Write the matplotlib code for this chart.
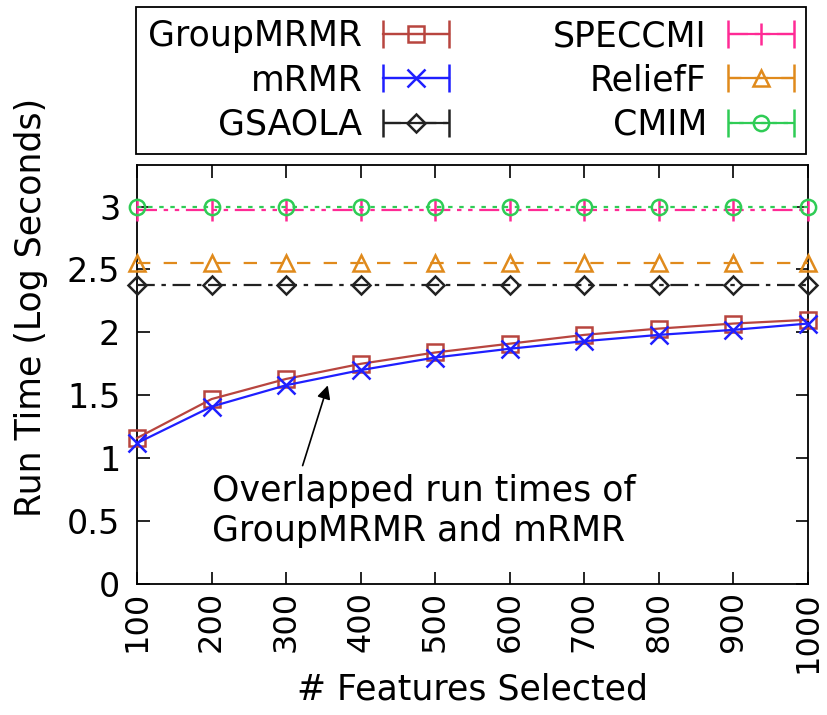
import matplotlib
matplotlib.use('Agg')
import matplotlib.pyplot as plt
from matplotlib.container import ErrorbarContainer
from matplotlib.legend_handler import HandlerErrorbar
from matplotlib.ticker import FormatStrFormatter

# features selected
features = [100, 200, 300, 400, 500, 600, 700, 800, 900, 1000]

# run time (log seconds)
group_mrmr = [1.16, 1.47, 1.63, 1.75, 1.84, 1.91, 1.98, 2.03, 2.07, 2.10]
mrmr = [1.12, 1.41, 1.58, 1.70, 1.80, 1.87, 1.93, 1.98, 2.02, 2.07]
gsaola = [2.38] * 10
speccmi = [2.97] * 10
relieff = [2.55] * 10
cmim = [3.0] * 10

series = [
    ('GroupMRMR', group_mrmr, '#b8453f', 's', '-'),
    ('mRMR', mrmr, '#1f1fff', 'x', '-'),
    ('GSAOLA', gsaola, '#222222', 'D', (0, (8, 3, 2, 3))),
    ('SPECCMI', speccmi, '#ff2a95', '|', (0, (9, 3, 2, 3, 2, 3))),
    ('ReliefF', relieff, '#e08a1c', '^', (0, (6, 6))),
    ('CMIM', cmim, '#2fcc55', 'o', (0, (2, 3))),
]

FS = 25
plt.rcParams['font.family'] = 'DejaVu Sans'
fig = plt.figure(figsize=(8.27, 7.15), dpi=100)
ax = fig.add_axes([0.1657, 0.1832, 0.8113, 0.5860])

handles = []
for nome, vals, cor, mk, ls in series:
    ms = {'s': 11, 'x': 13, 'D': 9, '|': 16, '^': 11, 'o': 11}[mk]
    cont = ax.errorbar(features, vals, xerr=[0] * len(vals), color=cor, linestyle=ls,
                       linewidth=1.6, marker=mk, markersize=ms, markerfacecolor='none',
                       markeredgecolor=cor, markeredgewidth=1.8, capsize=10,
                       elinewidth=1.6, label=nome, clip_on=False, zorder=3)
    for c in cont[1]:
        c.set_visible(False)
    handles.append(cont)


def atualiza(h, o):
    h.update_from(o)
    h.set_visible(True)


ax.set_xlim(100, 1000)
ax.set_ylim(0, 3.33)
ax.set_xticks(features)
ax.set_xticklabels([str(f) for f in features], rotation=90, fontsize=23)
ax.set_yticks([0, 0.5, 1, 1.5, 2, 2.5, 3])
ax.yaxis.set_major_formatter(FormatStrFormatter('%g'))
ax.tick_params(axis='y', labelsize=24, pad=12)
ax.tick_params(axis='x', pad=5)
ax.tick_params(direction='in', top=True, right=True, length=9, width=1.2)
for s in ax.spines.values():
    s.set_linewidth(1.3)

ax.set_xlabel('# Features Selected', fontsize=FS, labelpad=0)
ax.set_ylabel('Run Time (Log Seconds)', fontsize=FS)
ax.yaxis.set_label_coords(-0.132, 0.66)

ax.annotate('', xy=(357, 1.60), xytext=(321, 0.92),
            arrowprops=dict(arrowstyle='-|>', color='black', lw=1.2, mutation_scale=20))
ax.text(200, 0.58, 'Overlapped run times of\nGroupMRMR and mRMR', fontsize=FS,
        ha='left', va='center', linespacing=1.25)

leg = fig.legend(handles=handles, loc='center', ncol=2,
                 bbox_to_anchor=(0.5695, 0.8874), fontsize=FS,
                 markerfirst=False, handlelength=1.9, handletextpad=0.6,
                 labelspacing=0.3, borderpad=0.35, columnspacing=3.0,
                 borderaxespad=0, fancybox=False, framealpha=1, edgecolor='black',
                 handler_map={ErrorbarContainer: HandlerErrorbar(xerr_size=0.95, update_func=atualiza)})
leg.get_frame().set_linewidth(1.3)

fig.savefig('out.png', dpi=100)
